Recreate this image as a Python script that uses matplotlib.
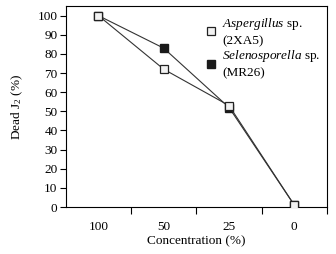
import numpy as np
import matplotlib.pyplot as plt

plt.rcParams["font.family"] = ["Liberation Serif", "DejaVu Serif"]
plt.rcParams["mathtext.fontset"] = "custom"
plt.rcParams["mathtext.rm"] = "Liberation Serif"
plt.rcParams["mathtext.it"] = "Liberation Serif:italic"

concentrations = ["100", "50", "25", "0"]
aspergillus = [100, 72, 53, 1]
selenosporella = [100, 83, 52, 1]
yticks = np.arange(0, 101, 10)

x = np.arange(len(concentrations))
fs = 9.5

fig = plt.figure(figsize=(3.36, 2.54), dpi=100)
ax = fig.add_axes([0.196, 0.185, 0.777, 0.791])

ax.plot(x, selenosporella, color="#333333", lw=0.8, marker="s", ms=6.2,
        mfc="#1a1a1a", mec="#1a1a1a", zorder=2)
ax.plot(x, aspergillus, color="#333333", lw=0.8, marker="s", ms=6.2,
        mfc="#f2f2f2", mec="#222222", mew=0.9, zorder=3)

# legend handles (markers only)
h1, = ax.plot([], [], ls="none", marker="s", ms=6, mfc="#f2f2f2", mec="#222222", mew=0.9)
h2, = ax.plot([], [], ls="none", marker="s", ms=6, mfc="#1a1a1a", mec="#1a1a1a")
leg = ax.legend([h1, h2],
                ["$\\it{Aspergillus}$ sp.\n(2XA5)", "$\\it{Selenosporella}$ sp.\n(MR26)"],
                loc="upper right", frameon=False, fontsize=fs, handlelength=0.6,
                handletextpad=0.5, labelspacing=0.1, borderaxespad=0.1,
                bbox_to_anchor=(1.0, 0.985))
for t in leg.get_texts():
    t.set_linespacing(1.35)

ax.set_xlim(-0.5, 3.5)
ax.set_ylim(0, 105)
ax.set_yticks(yticks)
ax.set_xticks(x)
ax.set_xticklabels(concentrations)
ax.set_xticks(x + 0.5, minor=True)
ax.tick_params(axis="x", which="major", length=0, pad=10, labelsize=fs)
ax.tick_params(axis="x", which="minor", length=5, width=0.8, direction="out")
ax.tick_params(axis="y", length=4, width=0.8, labelsize=fs, pad=2)

for s in ax.spines.values():
    s.set_linewidth(0.8)

ax.set_xlabel("Concentration (%)", fontsize=fs, labelpad=2)
ax.set_ylabel("Dead J$_2$ (%)", fontsize=fs, labelpad=9)

fig.savefig("out.png", dpi=100)
